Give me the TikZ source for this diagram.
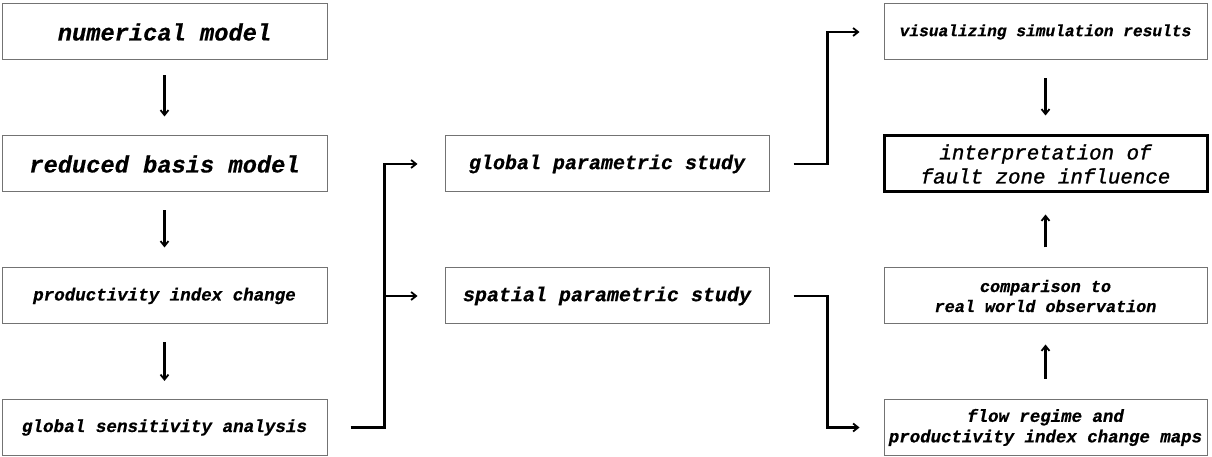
\documentclass[tikz,border=0pt]{standalone}
\usepackage{fontspec}
\newfontfamily\mono{Liberation Mono}[FakeBold=0.6]
\newfontfamily\monoreg{Liberation Mono}[FakeBold=1.2]
\usetikzlibrary{arrows.meta}
\tikzset{
  x=1pt,y=1pt,
  box/.style={draw=black!55, line width=1pt, fill=white, inner sep=0pt, align=center},
  lbox/.style={box, minimum width=325pt, minimum height=56pt},
  mbox/.style={box, minimum width=324pt, minimum height=56pt},
  rbox/.style={box, minimum width=323pt, minimum height=56pt},
  arr/.style={line width=2.3pt, -{Straight Barb[length=5pt,width=8pt,line width=1.8pt]}},
}
\begin{document}
\begin{tikzpicture}
\useasboundingbox (0,0) rectangle (1212,457);
% left column
\node[lbox, font=\mono\bfseries\itshape\fontsize{23.7}{26}\selectfont] (L1) at (164.5,425) {numerical model};
\node[lbox, font=\mono\bfseries\itshape\fontsize{23.7}{26}\selectfont] (L2) at (164.5,293) {reduced basis model};
\node[lbox, font=\mono\bfseries\itshape\fontsize{17.5}{20}\selectfont] (L3) at (164.5,161) {productivity index change};
\node[lbox, font=\mono\bfseries\itshape\fontsize{17.6}{20}\selectfont] (L4) at (164.5,29.5) {global sensitivity analysis};
% middle column
\node[mbox, font=\mono\bfseries\itshape\fontsize{20}{23}\selectfont] (M1) at (607,293) {global parametric study};
\node[mbox, font=\mono\bfseries\itshape\fontsize{20}{23}\selectfont] (M2) at (607,161) {spatial parametric study};
% right column
\node[rbox, font=\mono\bfseries\itshape\fontsize{16.2}{19}\selectfont] (R1) at (1045.5,425) {visualizing simulation results};
\node[rbox, draw=black, line width=3pt, font=\monoreg\itshape\fontsize{20.8}{24}\selectfont] (R2) at (1045.5,293) {interpretation of\\fault zone influence};
\node[rbox, font=\mono\bfseries\itshape\fontsize{16.8}{20}\selectfont] (R3) at (1045.5,161) {comparison to\\real world observation};
\node[rbox, font=\mono\bfseries\itshape\fontsize{17.4}{20.5}\selectfont] (R4) at (1045.5,29.5) {flow regime and\\productivity index change maps};
% vertical arrows
\draw[arr, shorten <=15pt, shorten >=19pt] (L1) -- (L2);
\draw[arr, shorten <=18pt, shorten >=20pt] (L2) -- (L3);
\draw[arr, shorten <=18pt, shorten >=18pt] (L3) -- (L4);
\draw[arr, shorten <=18pt, shorten >=19pt] (R1) -- (R2);
\draw[arr, shorten <=20pt, shorten >=21pt] (R3) -- (R2);
\draw[arr, shorten <=20pt, shorten >=20pt] (R4) -- (R3);
% elbow connectors
\draw[arr] ([xshift=23pt]L4.east) -| ([xshift=-60pt]M1.west) -- ([xshift=-27pt]M1.west);
\draw[arr] ([xshift=-60pt]M2.west) -- ([xshift=-27pt]M2.west);
\draw[arr] ([xshift=24pt]M1.east) -| ([xshift=-56pt]R1.west) -- ([xshift=-24pt]R1.west);
\draw[arr] ([xshift=24pt]M2.east) -| ([xshift=-56pt]R4.west) -- ([xshift=-24pt]R4.west);
\end{tikzpicture}
\end{document}
